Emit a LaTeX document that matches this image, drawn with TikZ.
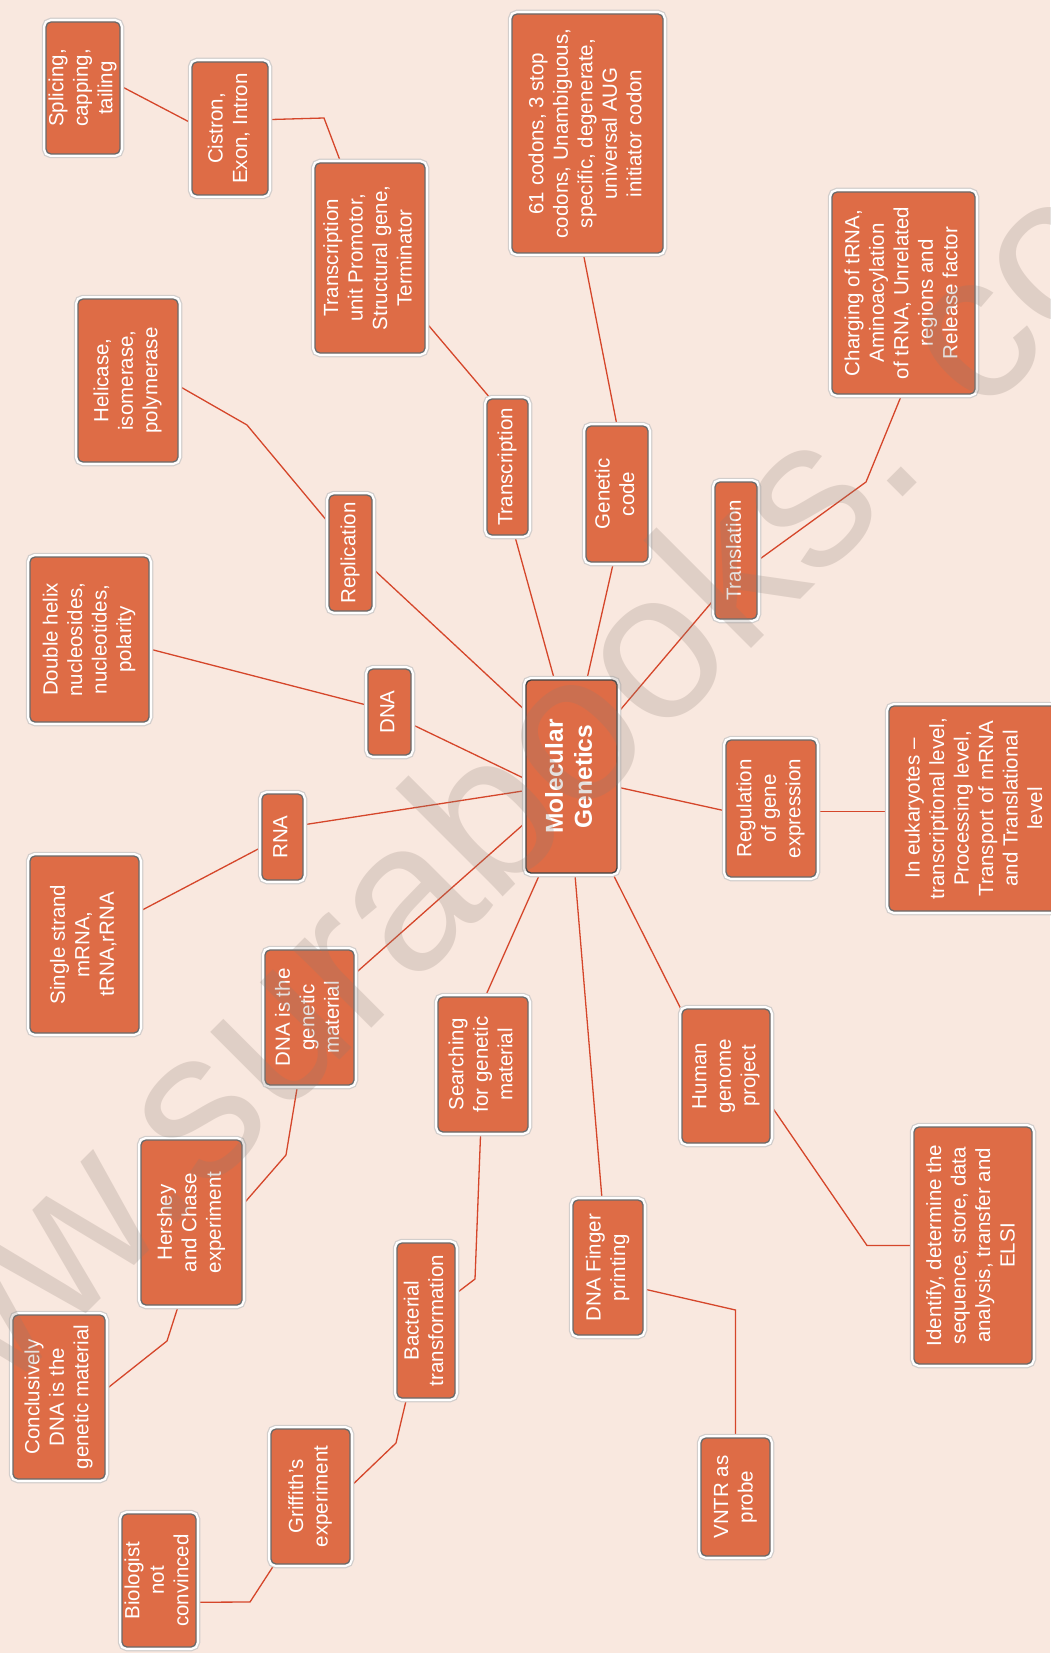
\documentclass[tikz,border=0pt]{standalone}
\usepackage{fontspec}
\setmainfont{Liberation Sans}
\usetikzlibrary{calc}
\definecolor{bgcol}{HTML}{F9E8DF}
\definecolor{boxfill}{HTML}{DE6C46}
\definecolor{boxedge}{HTML}{6A6A6A}
\definecolor{halogray}{HTML}{D2CECC}
\definecolor{linecol}{HTML}{D5462A}
\definecolor{wmcol}{HTML}{8C7D73}
\pgfdeclarelayer{bg}\pgfdeclarelayer{lines}\pgfdeclarelayer{wm}
\pgfsetlayers{bg,lines,main,wm}
\newcommand{\rtext}[1]{\rotatebox{90}{\begin{tabular}{@{}c@{}}#1\end{tabular}}}
\tikzset{
  box/.style={rectangle, rounded corners=5pt, fill=boxfill, draw=boxedge,
    line width=1.3pt, text=white, inner sep=0pt,
    font=\fontsize{20.5}{24.5}\selectfont,
    preaction={draw=halogray, line width=8.5pt},
    preaction={draw=white, line width=6pt}},
  sz/.style 2 args={minimum width=#1pt, minimum height=#2pt},
  link/.style={draw=linecol, line width=1.3pt, line join=miter}
}
\begin{document}
\begin{tikzpicture}[x=1pt,y=-1pt]
\begin{pgfonlayer}{bg}
\fill[bgcol] (0,0) rectangle (1050,1653);
\end{pgfonlayer}
\useasboundingbox (0,0) rectangle (1050,1653);

\node[box,sz={74}{132}] (spl) at (83,88) {\rtext{Splicing,\\capping,\\tailing}};
\node[box,sz={76}{133}] (cis) at (230,128.5) {\rtext{Cistron,\\Exon, Intron}};
\node[box,sz={110}{190}] (tu) at (370,258) {\rtext{Transcription\\unit Promotor,\\Structural gene,\\Terminator}};
\node[box,sz={100}{163}] (hel) at (128,380.5) {\rtext{Helicase,\\isomerase,\\polymerase}};
\node[box,sz={151}{239}] (cod) at (587.5,133.5) {\rtext{61 codons, 3 stop\\codons, Unambiguous,\\specific, degenerate,\\universal AUG\\initiator codon}};
\node[box,sz={143}{202}] (chg) at (903.5,293) {\rtext{Charging of tRNA,\\Aminoacylation\\of tRNA, Unrelated\\regions and\\Release factor}};
\node[box,sz={41}{136}] (trc) at (507.5,467) {\rtext{Transcription}};
\node[box,sz={62}{136}] (gen) at (617,494) {\rtext{Genetic\\code}};
\node[box,sz={42}{137}] (trl) at (736,550.5) {\rtext{Translation}};
\node[box,sz={43}{116}] (rep) at (350.5,553) {\rtext{Replication}};
\node[box,sz={119}{165}] (dh) at (89.5,639.5) {\rtext{Double helix\\nucleosides,\\nucleotides,\\polarity}};
\node[box,sz={43}{86}] (dna) at (389.5,712) {\rtext{DNA}};
\node[box,sz={91}{193},draw=black!75,font=\fontsize{24.5}{29}\selectfont\bfseries] (mg) at (571.5,776.5) {\rtext{Molecular\\Genetics}};
\node[box,sz={90}{137}] (reg) at (771,808.5) {\rtext{Regulation\\of gene\\expression}};
\node[box,sz={174}{205}] (euk) at (976,808.5) {\rtext{In eukaryotes --\\transcriptional level,\\Processing level,\\Transport of mRNA\\and Translational\\level}};
\node[box,sz={41}{86}] (rna) at (282.5,837) {\rtext{RNA}};
\node[box,sz={109}{177}] (ss) at (84.5,944.5) {\rtext{Single strand\\mRNA,\\tRNA,rRNA}};
\node[box,sz={89}{135}] (dgm) at (309.5,1017.5) {\rtext{DNA is the\\genetic\\material}};
\node[box,sz={90}{135}] (sgm) at (483,1064.5) {\rtext{Searching\\for genetic\\material}};
\node[box,sz={88}{134}] (hum) at (726,1076) {\rtext{Human\\genome\\project}};
\node[box,sz={101}{165}] (her) at (191.5,1222.5) {\rtext{Hershey\\and Chase\\experiment}};
\node[box,sz={118}{237}] (idf) at (973,1245.5) {\rtext{Identify, determine the\\sequence, store, data\\analysis, transfer and\\ELSI}};
\node[box,sz={70}{135}] (fin) at (608,1267.5) {\rtext{DNA Finger\\printing}};
\node[box,sz={58}{155}] (bac) at (426,1320.5) {\rtext{Bacterial\\transformation}};
\node[box,sz={92}{164}] (con) at (59,1397) {\rtext{Conclusively\\DNA is the\\genetic material}};
\node[box,sz={79}{135}] (gri) at (310.5,1496.5) {\rtext{Griffith’s\\experiment}};
\node[box,sz={69}{118}] (vntr) at (735.5,1497) {\rtext{VNTR as\\probe}};
\node[box,sz={74}{133}] (bio) at (159,1580.5) {\rtext{Biologist\\not\\convinced}};

\coordinate (k1) at (324,118);
\coordinate (k2) at (247,425);
\coordinate (k3) at (866,482);
\coordinate (k4) at (867,1245.5);
\coordinate (k5) at (286,1155);
\coordinate (k6) at (167,1341);
\coordinate (k7) at (475,1279);
\coordinate (k8) at (396,1443);
\coordinate (k9) at (250,1602);

\begin{pgfonlayer}{lines}
\draw[link] (spl.3) -- (cis.172);
\draw[link] (cis.13) -- (k1) -- (tu.107);
\draw[link] (tu.-49) -- (trc.104);
\draw[link] (hel.-6) -- (k2) -- (rep.126);
\draw[link] (cod.268) -- (gen.90);
\draw[link] (chg.269) -- (k3) -- (trl.-25);
\draw[link] (trc.-84) -- (mg.100);
\draw[link] (gen.267) -- (mg.81);
\draw[link] (trl.246) -- (mg.54);
\draw[link] (rep.-35) -- (mg.125);
\draw[link] (dh.-9) -- (dna.163);
\draw[link] (dna.-29) -- (mg.183);
\draw[link] (rna.30) -- (mg.197);
\draw[link] (ss.31) -- (rna.206);
\draw[link] (dgm.44) -- (mg.225);
\draw[link] (mg.-13) -- (reg.183);
\draw[link] (reg.-4) -- (reg.-4 -| euk.west);
\draw[link] (mg.252) -- (sgm.88);
\draw[link] (mg.272) -- (fin.95);
\draw[link] (mg.-67) -- (hum.124);
\draw[link] (hum.-33) -- (k4) -- (idf.west);
\draw[link] (fin.-31) -- (vntr.north |- 0,1310) -- (vntr.north);
\draw[link] (dgm.260) -- (k5) -- (her.19);
\draw[link] (her.261) -- (k6) -- (con.9);
\draw[link] (sgm.268) -- (k7) -- (bac.42);
\draw[link] (bac.256) -- (k8) -- (gri.14);
\draw[link] (gri.242) -- (k9) -- (bio.-30);
\end{pgfonlayer}

\begin{pgfonlayer}{wm}
\node[rotate=45, anchor=base west, inner sep=0pt, text=wmcol, opacity=0.23,
  font=\fontsize{210}{210}\selectfont] (wmark) at (-150,1550) {www.surabooks.\kern 70pt com};
\end{pgfonlayer}
\end{tikzpicture}
\end{document}
